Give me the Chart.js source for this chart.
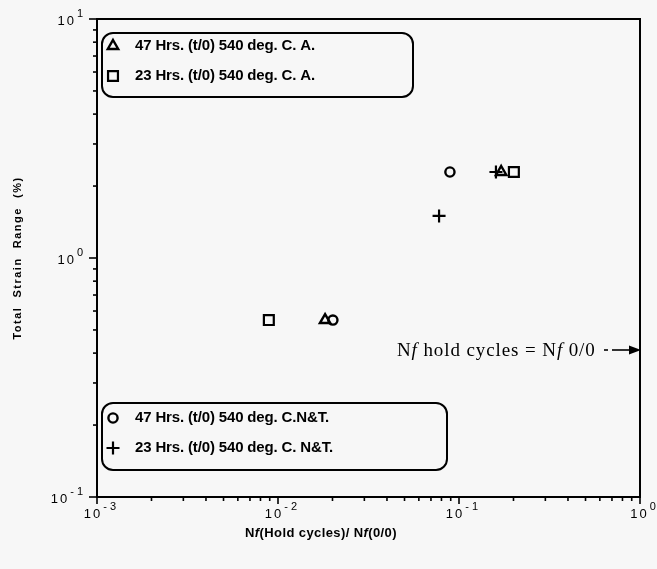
<!DOCTYPE html>
<html>
<head>
<meta charset="utf-8">
<script src="https://cdn.jsdelivr.net/npm/chart.js@4/dist/chart.umd.min.js"></script>
<style>
  html, body { margin: 0; padding: 0; background: #f7f7f7; }
  #wrap { width: 657px; height: 569px; position: relative; }
</style>
</head>
<body>
<div id="wrap"><canvas id="c" width="657" height="569"></canvas></div>
<script>
// Series labels
const seriesNames = [
  '47 Hrs. (t/0) 540 deg. C. A.',
  '23 Hrs. (t/0) 540 deg. C. A.',
  '47 Hrs. (t/0) 540 deg. C.N&T.',
  '23 Hrs. (t/0) 540 deg. C. N&T.'
];
// Nf(hold)/Nf(0/0) ratio and total strain range (%) for each series
const triA_x    = [0.0182, 0.171];
const triA_y    = [0.55, 2.29];
const sqA_x     = [0.0089, 0.201];
const sqA_y     = [0.55, 2.29];
const circNT_x  = [0.0201, 0.0891];
const circNT_y  = [0.55, 2.29];
const plusNT_x  = [0.0776, 0.160];
const plusNT_y  = [1.50, 2.29];

// Decade exponents used for axis tick labels
const xTickExponents = [-3, -2, -1, 0];
const yTickExponents = [-1, 0, 1];

const xTitleParts = [['N', false], ['f', true], ['(Hold cycles)/ N', false], ['f', true], ['(0/0)', false]];
const yTitle = 'Total  Strain  Range  (%)';
const noteParts = [['N', false], ['f', true], [' hold cycles = N', false], ['f', true], [' 0/0', false]];

const toPts = (xs, ys) => xs.map((x, i) => ({ x: x, y: ys[i] }));

const markers = [
  { style: 'triangle', radius: 6,   width: 2.4 },
  { style: 'rect',     radius: 7,   width: 2.2 },
  { style: 'circle',   radius: 4.6, width: 2.4 },
  { style: 'cross',    radius: 6.5, width: 2.2 }
];

const SANS = '"Liberation Sans", Arial, sans-serif';
const SERIF = '"Liberation Serif", "Times New Roman", serif';

function marker(ctx, m, x, y) {
  ctx.save();
  ctx.strokeStyle = '#000';
  ctx.fillStyle = 'rgba(0,0,0,0)';
  ctx.lineWidth = m.width;
  if (Chart.helpers && Chart.helpers.drawPoint) {
    Chart.helpers.drawPoint(ctx, { pointStyle: m.style, rotation: 0, radius: m.radius, borderWidth: m.width }, x, y);
  }
  ctx.restore();
}

function richText(ctx, parts, x, y, size, bold, family, align, spacing) {
  const fontOf = (it) => (it ? 'italic ' : '') + (bold ? 'bold ' : '') + size + 'px ' + family;
  ctx.letterSpacing = (spacing || 0) + 'px';
  let total = 0;
  parts.forEach(p => { ctx.font = fontOf(p[1]); total += ctx.measureText(p[0]).width; });
  let cx = align === 'center' ? x - total / 2 : x;
  ctx.textAlign = 'left';
  parts.forEach(p => {
    ctx.font = fontOf(p[1]);
    ctx.fillText(p[0], cx, y);
    cx += ctx.measureText(p[0]).width;
  });
  ctx.letterSpacing = '0px';
}

function powerLabel(ctx, exp, x, y, align) {
  const base = '10';
  const sup = exp < 0 ? '- ' + Math.abs(exp) : String(exp);
  ctx.font = '13px ' + SANS;
  ctx.letterSpacing = '2px';
  const wb = ctx.measureText(base).width;
  ctx.font = '11px ' + SANS;
  ctx.letterSpacing = '0px';
  const ws = ctx.measureText(sup).width;
  const total = wb + 1 + ws;
  let left = align === 'center' ? x - total / 2 : x - total;
  ctx.textBaseline = 'middle';
  ctx.textAlign = 'left';
  ctx.font = '13px ' + SANS;
  ctx.letterSpacing = '2px';
  ctx.fillText(base, left, y);
  ctx.font = '11px ' + SANS;
  ctx.letterSpacing = '0px';
  ctx.fillText(sup, left + wb + 1, y - 7);
}

const frame = {
  id: 'frame',
  beforeDraw(chart) {
    const ctx = chart.ctx;
    ctx.save();
    ctx.fillStyle = '#f7f7f7';
    ctx.fillRect(0, 0, chart.width, chart.height);
    ctx.restore();
  },
  afterDatasetsDraw(chart) {
    const ctx = chart.ctx;
    const a = chart.chartArea;
    const xs = chart.scales.x, ys = chart.scales.y;
    ctx.save();
    ctx.strokeStyle = '#000';
    ctx.fillStyle = '#000';
    ctx.lineWidth = 2;
    ctx.strokeRect(a.left, a.top, a.right - a.left, a.bottom - a.top);

    // minor/major log ticks, pointing outward
    ctx.lineWidth = 1.6;
    for (let e = -3; e <= 0; e++) {
      for (let m = 1; m <= 9; m++) {
        const v = m * Math.pow(10, e);
        if (v > 1.0001) break;
        const px = xs.getPixelForValue(v);
        const len = m === 1 ? 7 : 4;
        ctx.beginPath(); ctx.moveTo(px, a.bottom); ctx.lineTo(px, a.bottom + len); ctx.stroke();
      }
    }
    for (let e = -1; e <= 1; e++) {
      for (let m = 1; m <= 9; m++) {
        const v = m * Math.pow(10, e);
        if (v > 10.0001) break;
        const py = ys.getPixelForValue(v);
        const len = m === 1 ? 8 : 4;
        ctx.beginPath(); ctx.moveTo(a.left, py); ctx.lineTo(a.left - len, py); ctx.stroke();
      }
    }

    // tick labels
    xTickExponents.forEach(e => powerLabel(ctx, e, xs.getPixelForValue(Math.pow(10, e)) + 3, a.bottom + 17, 'center'));
    yTickExponents.forEach(e => powerLabel(ctx, e, a.left - 14, ys.getPixelForValue(Math.pow(10, e)) + 2, 'right'));

    // axis titles
    ctx.textBaseline = 'middle';
    richText(ctx, xTitleParts, 321, 533, 13, true, SANS, 'center', 0.4);
    ctx.save();
    ctx.translate(18, 258);
    ctx.rotate(-Math.PI / 2);
    ctx.font = 'bold 11px ' + SANS;
    ctx.letterSpacing = '1.5px';
    ctx.textAlign = 'center';
    ctx.fillText(yTitle, 0, 0);
    ctx.restore();
    ctx.letterSpacing = '0px';

    // legend boxes
    const boxes = [
      { x: 102, y: 33, w: 311, h: 64, items: [0, 1], rows: [46, 76] },
      { x: 102, y: 403, w: 345, h: 67, items: [2, 3], rows: [418, 448] }
    ];
    boxes.forEach(b => {
      ctx.lineWidth = 2;
      ctx.beginPath();
      ctx.roundRect(b.x, b.y, b.w, b.h, 11);
      ctx.stroke();
      b.items.forEach((idx, k) => {
        marker(ctx, markers[idx], b.x + 11, b.rows[k]);
        ctx.font = 'bold 15px ' + SANS;
        ctx.letterSpacing = '-0.15px';
        ctx.textAlign = 'left';
        ctx.textBaseline = 'middle';
        ctx.fillText(seriesNames[idx], b.x + 33, b.rows[k]);
        ctx.letterSpacing = '0px';
      });
    });

    // note with arrow pointing at the right edge
    ctx.textBaseline = 'alphabetic';
    richText(ctx, noteParts, 397, 356, 19, false, SERIF, 'left', 0.9);
    ctx.lineWidth = 1.6;
    ctx.beginPath(); ctx.moveTo(604, 350); ctx.lineTo(608, 350); ctx.stroke();
    ctx.beginPath(); ctx.moveTo(612, 350); ctx.lineTo(632, 350); ctx.stroke();
    ctx.beginPath(); ctx.moveTo(641, 350); ctx.lineTo(629, 345.5); ctx.lineTo(629, 354.5); ctx.closePath(); ctx.fill();
    ctx.restore();
  }
};

const ds = (label, pts, m) => ({
  label: label,
  data: pts,
  pointStyle: m.style,
  pointRadius: m.radius,
  pointBorderWidth: m.width,
  pointBorderColor: '#000',
  pointBackgroundColor: 'rgba(0,0,0,0)',
  borderColor: '#000',
  showLine: false
});

new Chart(document.getElementById('c'), {
  type: 'scatter',
  data: {
    datasets: [
      ds(seriesNames[0], toPts(triA_x, triA_y), markers[0]),
      ds(seriesNames[1], toPts(sqA_x, sqA_y), markers[1]),
      ds(seriesNames[2], toPts(circNT_x, circNT_y), markers[2]),
      ds(seriesNames[3], toPts(plusNT_x, plusNT_y), markers[3])
    ]
  },
  options: {
    responsive: false,
    animation: false,
    layout: { padding: { left: 97, right: 17, top: 19, bottom: 72 } },
    scales: {
      x: { type: 'logarithmic', min: 0.001, max: 1, display: false },
      y: { type: 'logarithmic', min: 0.1, max: 10, display: false }
    },
    plugins: { legend: { display: false }, tooltip: { enabled: false } }
  },
  plugins: [frame]
});
</script>
</body>
</html>
